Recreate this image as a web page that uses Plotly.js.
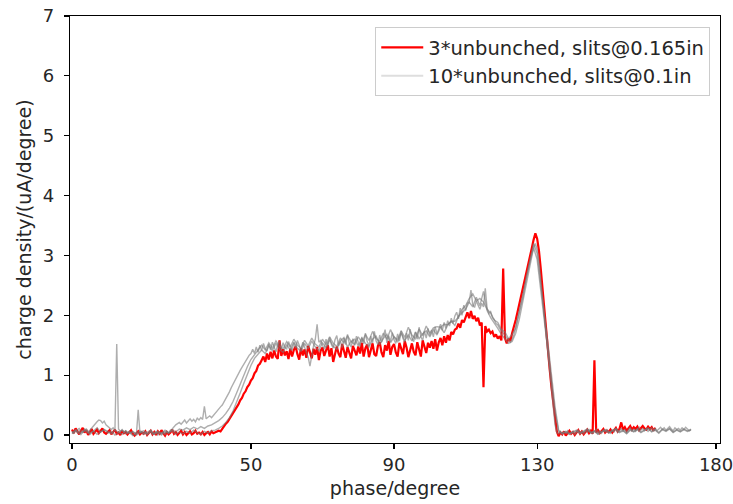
<!DOCTYPE html>
<html>
<head>
<meta charset="utf-8">
<script src="https://cdn.plot.ly/plotly-3.0.1.min.js"></script>
<style>html,body{margin:0;padding:0;background:#fff;}#chart{width:733px;height:504px;}</style>
</head>
<body>
<div id="chart"></div>
<script>
// ---- data (phase in degrees, charge density in uA/degree) ----
const redName = "3*unbunched, slits@0.165in";
const grayName = "10*unbunched, slits@0.1in";

// red series: sampled every 0.5 degree starting at 0
const redStart = 0, redStep = 0.5;
const redValues = [
 0.09,0.03,0.11,0.06,0.01,0.07,0.12,0.04,0.08,0.00,0.05,0.10,0.02,0.06,0.09,0.03,0.07,0.11,0.04,0.02,
 0.05,0.08,0.01,0.06,0.09,0.02,0.04,0.00,0.07,0.03,0.05,0.01,0.04,0.08,0.02,-0.01,0.03,0.06,0.01,0.04,
 0.02,0.06,0.00,0.03,0.07,0.01,0.05,0.00,0.06,0.02,0.08,0.03,-0.01,0.05,0.01,0.04,0.09,0.02,0.05,0.00,
 0.04,0.07,0.01,0.05,0.00,0.03,0.06,0.01,0.03,0.07,0.02,0.04,0.01,0.05,0.00,0.03,0.05,0.01,0.06,0.03,
 0.04,0.05,0.07,0.06,0.11,0.15,0.19,0.22,0.27,0.30,0.36,0.40,0.46,0.51,0.58,0.62,0.69,0.73,0.80,0.84,
 0.91,0.95,1.03,1.07,1.16,1.19,1.25,1.31,1.22,1.36,1.26,1.39,1.28,1.41,1.31,1.27,1.58,1.32,1.43,1.33,
 1.40,1.27,1.44,1.31,1.42,1.48,1.35,1.26,1.45,1.33,1.43,1.29,1.49,1.36,1.28,1.44,1.34,1.47,1.25,1.41,
 1.46,1.32,1.43,1.50,1.31,1.45,1.22,1.33,1.48,1.36,1.30,1.52,1.40,1.29,1.47,1.37,1.28,1.49,1.39,1.33,
 1.48,1.36,1.54,1.31,1.45,1.51,1.30,1.44,1.53,1.35,1.32,1.49,1.55,1.38,1.30,1.50,1.41,1.57,1.34,1.47,
 1.52,1.38,1.31,1.54,1.45,1.35,1.57,1.46,1.30,1.42,1.53,1.39,1.33,1.55,1.44,1.31,1.58,1.47,1.37,1.54,
 1.46,1.57,1.44,1.60,1.41,1.55,1.62,1.50,1.65,1.54,1.67,1.58,1.72,1.68,1.76,1.78,1.86,1.79,1.92,1.88,
 1.98,2.05,1.95,2.07,1.94,1.99,1.90,1.96,1.83,1.88,0.80,1.82,1.73,1.76,1.70,1.73,1.64,1.68,1.61,1.65,
 1.58,2.78,1.62,1.53,1.61,1.57,1.70,1.80,1.92,2.05,2.18,2.30,2.42,2.55,2.68,2.82,2.98,3.12,3.26,3.37,
 3.28,3.08,2.78,2.42,2.06,1.72,1.40,1.10,0.80,0.52,0.25,0.06,-0.02,0.04,0.01,0.06,-0.01,0.03,0.07,0.02,
 0.05,0.00,0.04,0.08,0.02,0.06,0.01,0.05,0.09,0.03,0.07,0.02,1.25,0.04,0.08,0.03,0.06,0.10,0.04,0.07,
 0.05,0.09,0.04,0.08,0.12,0.06,0.10,0.21,0.09,0.13,0.07,0.11,0.15,0.09,0.13,0.10,0.14,0.08,0.12,0.15,
 0.11,0.09,0.14,0.10,0.13,0.07,0.12
];

// gray run 1: sampled every 0.5 degree starting at 0
const gray1Start = 0, gray1Step = 0.5;
const gray1Values = [
 0.06,0.02,0.09,0.04,0.07,0.01,0.05,0.10,0.06,0.03,0.08,0.12,0.15,0.18,0.22,0.25,0.24,0.20,0.23,0.17,
 0.14,0.11,0.09,0.12,0.08,1.52,0.10,0.06,0.09,0.05,0.07,0.03,0.06,0.02,0.05,0.04,0.01,0.42,0.03,0.06,
 0.02,0.05,0.00,0.04,0.07,0.01,0.03,0.06,0.00,0.04,0.02,0.05,0.01,0.06,0.03,0.08,0.10,0.14,0.17,0.19,
 0.21,0.18,0.22,0.25,0.20,0.24,0.27,0.23,0.26,0.22,0.28,0.25,0.29,0.26,0.48,0.27,0.30,0.32,0.29,0.33,
 0.36,0.40,0.43,0.47,0.50,0.55,0.60,0.66,0.72,0.79,0.85,0.92,0.98,1.03,1.08,1.13,1.18,1.24,1.28,1.33,
 1.36,1.43,1.36,1.47,1.38,1.50,1.41,1.53,1.44,1.40,1.52,1.42,1.55,1.45,1.39,1.51,1.57,1.43,1.54,1.46,
 1.44,1.56,1.47,1.41,1.54,1.45,1.58,1.48,1.42,1.55,1.46,1.40,1.30,1.15,1.35,1.49,1.60,1.85,1.55,1.58,
 1.50,1.43,1.60,1.48,1.63,1.51,1.45,1.59,1.66,1.49,1.57,1.46,1.62,1.51,1.68,1.53,1.47,1.61,1.50,1.65,
 1.55,1.48,1.64,1.52,1.70,1.56,1.49,1.65,1.54,1.73,1.57,1.51,1.67,1.55,1.64,1.76,1.54,1.66,1.56,1.71,
 1.59,1.53,1.69,1.57,1.74,1.61,1.55,1.70,1.58,1.77,1.62,1.56,1.72,1.60,1.80,1.64,1.58,1.73,1.62,1.78,
 1.66,1.75,1.64,1.81,1.69,1.78,1.85,1.75,1.88,1.78,1.91,1.82,1.95,1.86,1.99,2.05,1.94,2.12,2.00,2.17,
 2.08,2.20,2.22,2.42,2.18,2.13,2.24,2.17,2.10,2.20,2.14,2.45,2.12,2.03,2.06,1.96,1.93,1.86,1.84,1.78,
 1.74,1.69,1.66,1.61,1.58,1.55,1.60,1.68,1.80,1.93,2.06,2.20,2.34,2.48,2.62,2.76,2.90,3.03,3.13,3.20,
 3.10,2.90,2.60,2.28,1.96,1.63,1.31,1.00,0.70,0.42,0.17,0.04,0.02,0.06,0.01,0.05,0.03,0.07,0.02,0.04,
 0.06,0.01,0.05,0.08,0.03,0.06,0.02,0.07,0.04,0.09,0.05,0.02,0.06,0.10,0.04,0.07,0.03,0.08,0.05,0.09,
 0.06,0.03,0.08,0.05,0.10,0.04,0.07,0.11,0.06,0.09,0.05,0.08,0.12,0.07,0.10,0.06,0.09,0.13,0.08,0.11,
 0.07,0.10,0.06,0.09,0.12,0.08,0.11,0.07,0.10,0.13,0.09,0.12,0.08,0.11,0.14,0.10,0.07,0.12,0.09,0.11,
 0.08,0.12,0.09,0.13,0.10,0.07,0.10
];

// gray run 2: sampled every 1 degree starting at 0
const gray2Start = 0, gray2Step = 1;
const gray2Values = [
 0.04,0.08,0.02,0.06,0.10,0.03,0.07,0.01,0.05,0.09,
 0.03,0.06,0.00,0.04,0.08,0.02,0.05,-0.01,0.03,0.07,
 0.01,0.04,0.08,0.02,0.05,0.00,0.06,0.03,0.07,0.01,
 0.05,0.02,0.06,0.03,0.08,0.04,0.01,0.06,0.03,0.07,
 0.08,0.11,0.15,0.21,0.29,0.40,0.54,0.70,0.86,1.02,
 1.16,1.28,1.35,1.42,1.36,1.49,1.41,1.53,1.43,1.38,
 1.51,1.42,1.55,1.45,1.40,1.53,1.44,1.57,1.47,1.41,
 1.54,1.46,1.59,1.48,1.43,1.57,1.63,1.47,1.56,1.60,
 1.49,1.62,1.53,1.47,1.60,1.65,1.51,1.61,1.68,1.54,
 1.64,1.55,1.70,1.58,1.67,1.57,1.72,1.61,1.69,1.74,
 1.64,1.76,1.67,1.80,1.71,1.84,1.90,1.83,1.98,2.04,
 2.10,2.22,2.14,2.30,2.16,2.40,2.08,1.96,1.88,1.78,
 1.68,1.60,1.53,1.56,1.70,1.93,2.23,2.53,2.86,3.13,
 2.93,2.43,1.96,1.43,0.90,0.38,0.06,0.02,0.05,0.01,
 0.04,0.07,0.02,0.05,0.09,0.03,0.06,0.01,0.05,0.08,
 0.03,0.06,0.10,0.04,0.07,0.02,0.08,0.05,0.09,0.04,
 0.07,0.11,0.05,0.08,0.03,0.09,0.06,0.10,0.04,0.08,
 0.05,0.09,0.06,0.08
];

// gray run 3: sampled every 1 degree starting at 0
const gray3Start = 0, gray3Step = 1;
const gray3Values = [
 0.02,0.06,0.11,0.04,0.08,0.01,0.07,0.12,0.05,0.09,
 0.06,0.02,0.08,0.04,0.01,0.07,0.03,0.06,0.00,0.04,
 0.07,0.02,0.05,0.01,0.06,0.03,0.08,0.04,0.09,0.05,
 0.10,0.08,0.12,0.09,0.13,0.10,0.14,0.11,0.15,0.17,
 0.20,0.24,0.29,0.36,0.45,0.56,0.70,0.85,1.00,1.14,
 1.26,1.35,1.42,1.50,1.42,1.54,1.45,1.57,1.48,1.44,
 1.56,1.47,1.60,1.50,1.45,1.58,1.49,1.62,1.52,1.47,
 1.60,1.51,1.64,1.53,1.48,1.62,1.54,1.66,1.56,1.51,
 1.64,1.55,1.68,1.58,1.73,1.61,1.56,1.70,1.60,1.76,
 1.64,1.59,1.74,1.63,1.80,1.67,1.61,1.77,1.66,1.82,
 1.70,1.79,1.81,1.80,1.85,1.84,1.90,1.90,1.97,2.10,
 2.16,2.28,2.36,2.24,2.28,2.22,2.10,2.04,1.92,1.88,
 1.76,1.72,1.61,1.68,1.78,2.04,2.30,2.64,2.90,3.20,
 3.03,2.57,2.03,1.54,0.96,0.47,0.08,0.03,0.06,0.02,
 0.05,0.08,0.03,0.06,0.10,0.04,0.07,0.02,0.06,0.09,
 0.04,0.07,0.11,0.05,0.08,0.03,0.09,0.06,0.10,0.05,
 0.08,0.12,0.06,0.09,0.04,0.10,0.07,0.11,0.05,0.09,
 0.06,0.10,0.07,0.09
];

const xTicks = [0, 50, 90, 130, 180];
const yTicks = [0, 1, 2, 3, 4, 5, 6, 7];

// ---- build ----
function phases(start, step, n) { const a = []; for (let i = 0; i < n; i++) a.push(start + i * step); return a; }

const FONT = "DejaVu Sans, sans-serif";
const TXT = "#262626";
const grayLine = {color: "rgba(120,120,120,0.6)", width: 1.4};

const traces = [
  {x: phases(redStart, redStep, redValues.length), y: redValues, type: "scatter", mode: "lines",
   name: redName, line: {color: "#ff0000", width: 2.2}},
  {x: [null], y: [null], type: "scatter", mode: "lines", name: grayName,
   line: {color: "#dedede", width: 2}},
  {x: phases(gray1Start, gray1Step, gray1Values.length), y: gray1Values, type: "scatter", mode: "lines",
   showlegend: false, line: grayLine},
  {x: phases(gray2Start, gray2Step, gray2Values.length), y: gray2Values, type: "scatter", mode: "lines",
   showlegend: false, line: grayLine},
  {x: phases(gray3Start, gray3Step, gray3Values.length), y: gray3Values, type: "scatter", mode: "lines",
   showlegend: false, line: grayLine}
];

const axisCommon = {
  showline: true, linecolor: "#000", linewidth: 1.2, mirror: true,
  ticks: "outside", ticklen: 5, tickwidth: 1.2, tickcolor: "#000",
  showgrid: false, zeroline: false, ticklabeloverflow: "allow",
  tickfont: {family: FONT, size: 18, color: TXT}
};

const layout = {
  width: 733, height: 504,
  margin: {l: 70, r: 13, t: 16, b: 61},
  paper_bgcolor: "#fff", plot_bgcolor: "#fff",
  font: {family: FONT, size: 18, color: TXT},
  xaxis: Object.assign({}, axisCommon, {
    range: [-0.56, 181.1], tickmode: "array", tickvals: xTicks,
    ticktext: xTicks.map(String),
    title: {text: "phase/degree", font: {family: FONT, size: 19, color: TXT}, standoff: 8}
  }),
  yaxis: Object.assign({}, axisCommon, {
    range: [-0.134, 7], tickmode: "array", tickvals: yTicks,
    ticktext: yTicks.map(String), ticklabelstandoff: 6,
    title: {text: "charge density/(uA/degree)", font: {family: FONT, size: 19, color: TXT}, standoff: 6}
  }),
  legend: {
    x: 0.985, y: 0.974, xanchor: "right", yanchor: "top",
    bgcolor: "rgba(255,255,255,0.85)", bordercolor: "#cccccc", borderwidth: 1,
    font: {family: FONT, size: 19.5, color: TXT},
    itemwidth: 42, tracegroupgap: 0
  },
  showlegend: true
};

Plotly.newPlot("chart", traces, layout, {displayModeBar: false, staticPlot: true});
</script>
</body>
</html>
